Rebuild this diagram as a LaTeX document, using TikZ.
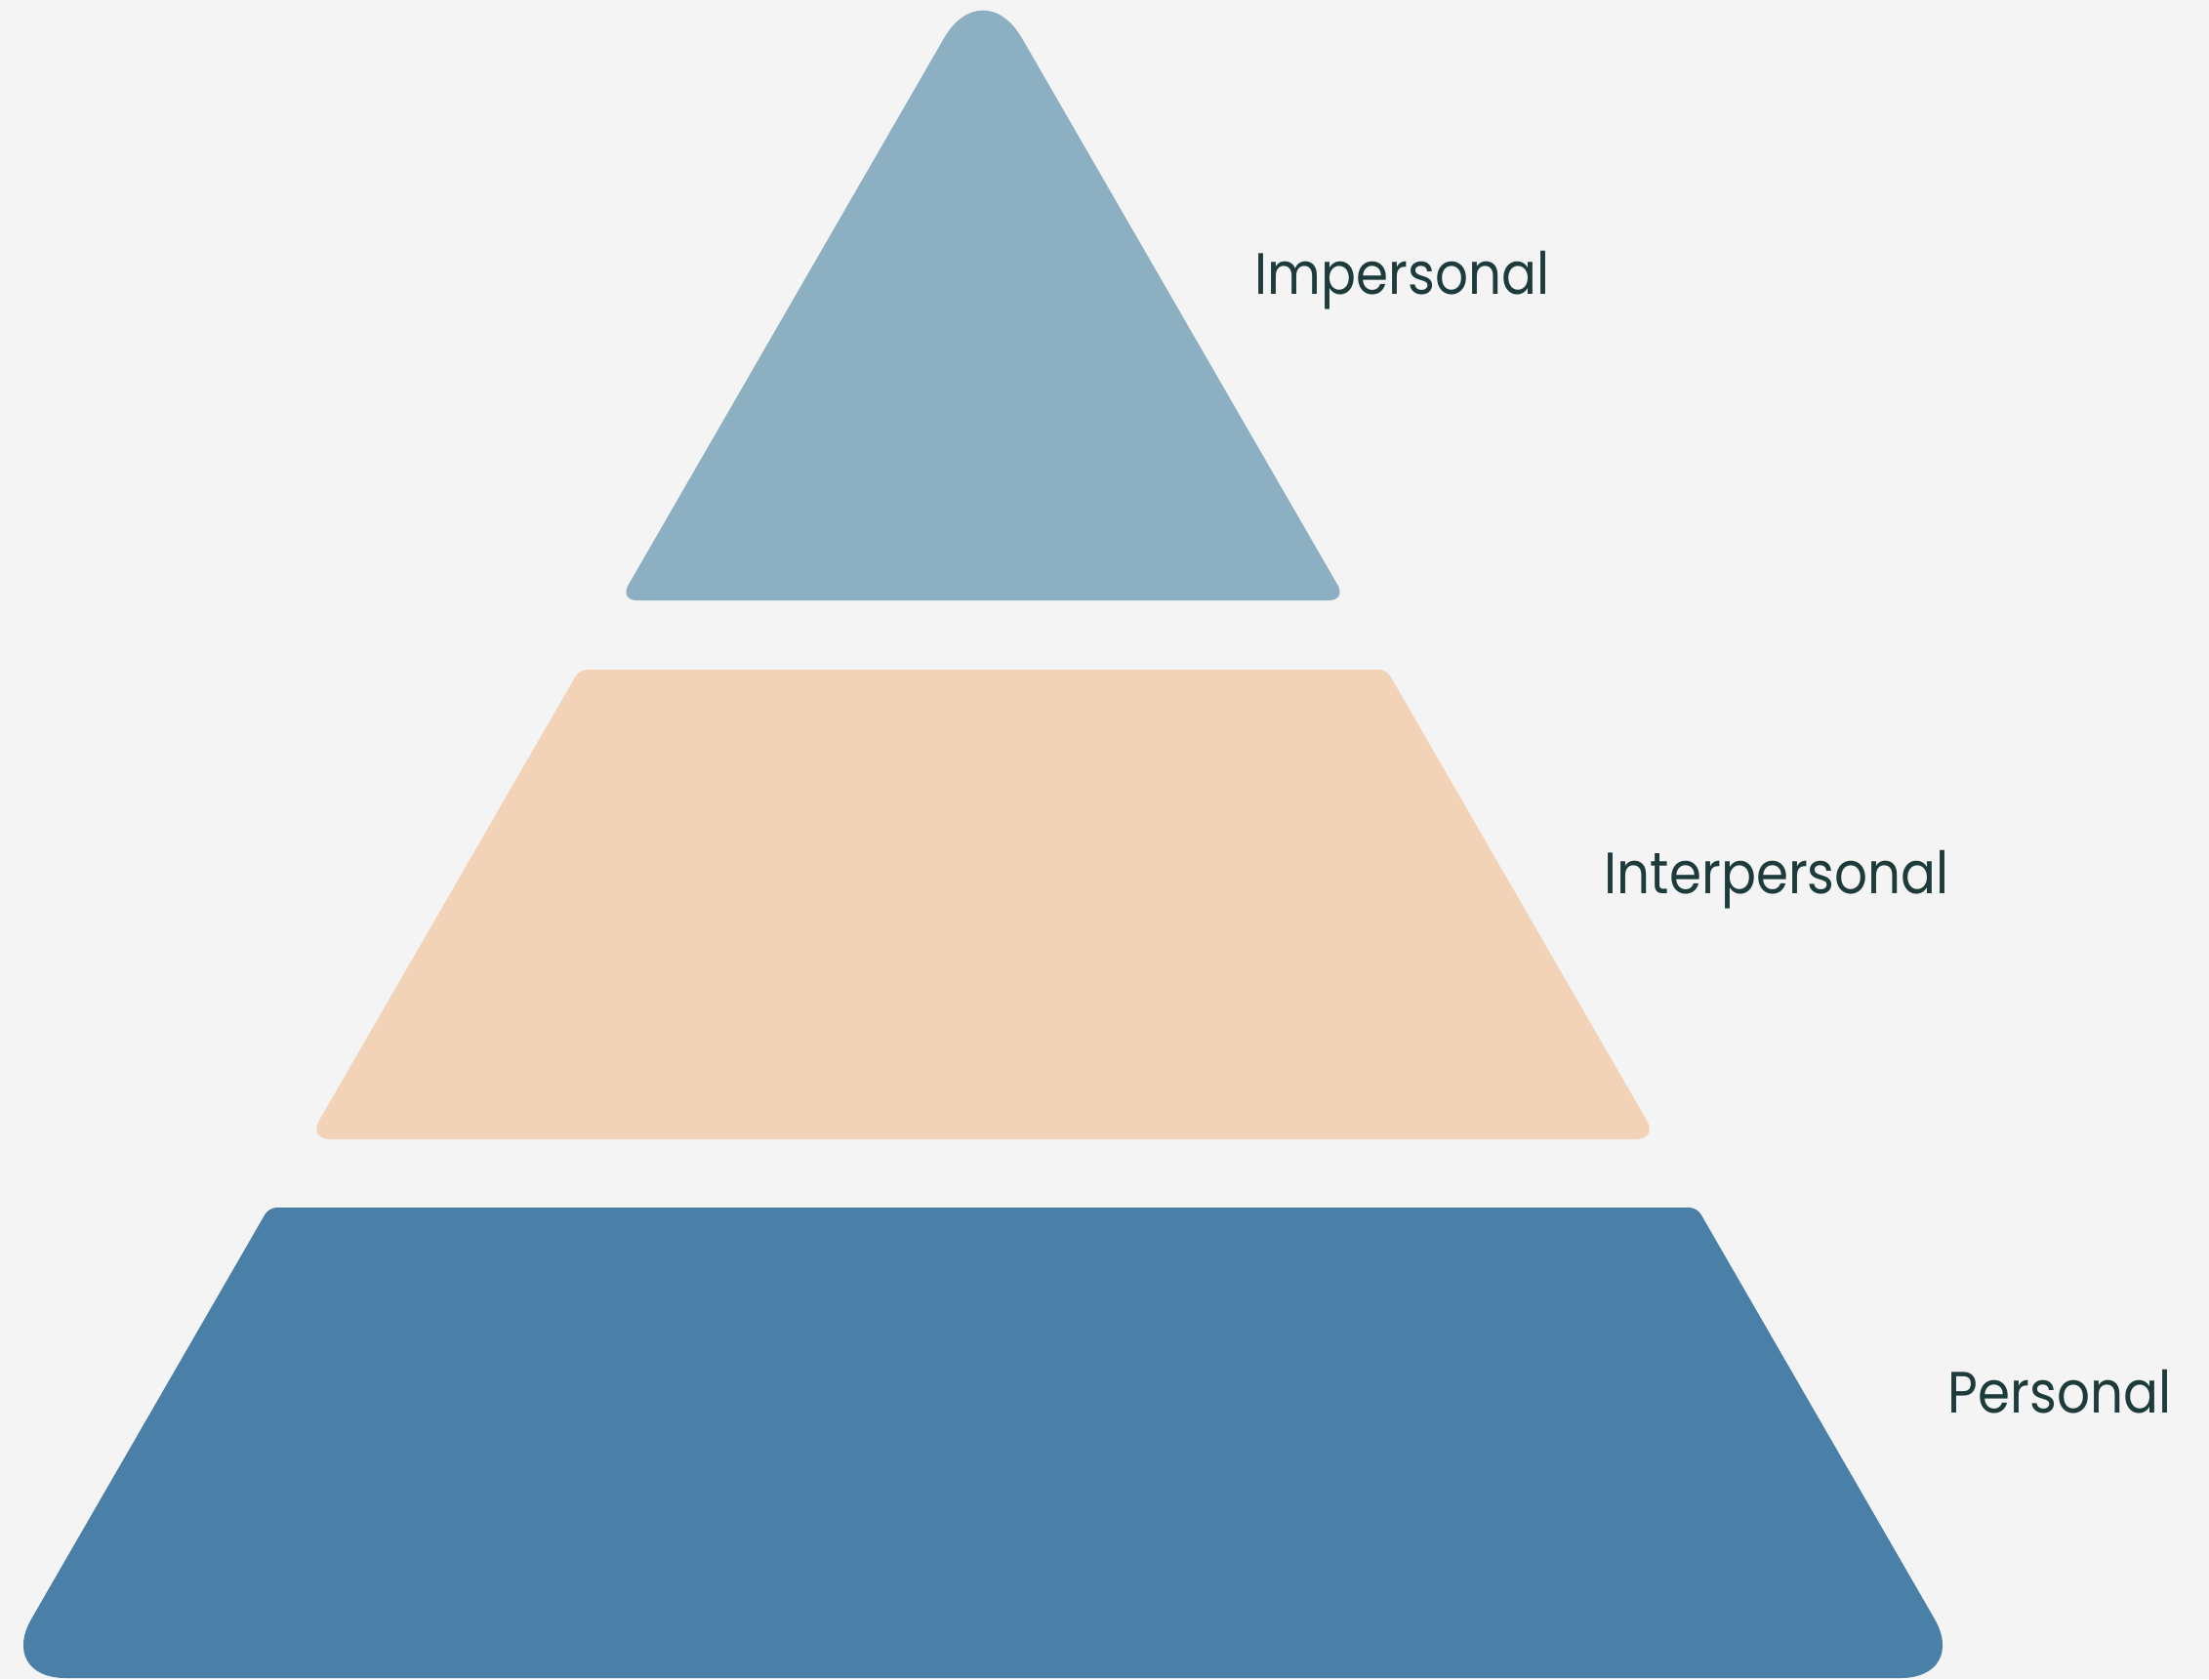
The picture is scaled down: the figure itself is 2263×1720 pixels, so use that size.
\documentclass[tikz,border=0pt]{standalone}
\usepackage{fontspec}
\setmainfont{Poppins}
\definecolor{bgc}{HTML}{F4F4F4}
\definecolor{topc}{HTML}{8CAFC2}
\definecolor{midc}{HTML}{F3D3B7}
\definecolor{botc}{HTML}{4A80A8}
\definecolor{txtc}{HTML}{1C3B3A}
\tikzset{
  lbl/.style={anchor=base west, inner sep=0pt, text=txtc, font=\fontsize{17}{20}\selectfont}
}
\newcommand{\lbltext}[1]{\scalebox{0.89}[1]{#1}}
\begin{document}
\begin{tikzpicture}[x=0.01cm,y=-0.01cm]
\fill[bgc] (0,0) rectangle (2263,1720);
\useasboundingbox (0,0) rectangle (2263,1720);
% top triangle
\fill[topc] (1007,615) [rounded corners=0.18cm] -- (634.6,615) [rounded corners=0.8cm] -- (1007,-30) [rounded corners=0.18cm] -- (1379.4,615) [sharp corners] -- cycle;
% middle trapezoid
\fill[midc] (1007,686) [rounded corners=0.08cm] -- (593.6,686) [rounded corners=0.22cm] -- (315.9,1167) -- (1698.1,1167) [rounded corners=0.08cm] -- (1420.4,686) [sharp corners] -- cycle;
% bottom trapezoid
\fill[botc] (1007,1237) [rounded corners=0.08cm] -- (275.5,1237) [rounded corners=0.7cm] -- (-2.8,1719) -- (2016.8,1719) [rounded corners=0.08cm] -- (1738.5,1237) [sharp corners] -- cycle;
% labels
\node[lbl] (imp) at (1285,301) {\lbltext{Impersonal}};
\node[lbl] (inter) at (1643,915) {\lbltext{Interpersonal}};
\node[lbl] (pers) at (1995,1447) {\lbltext{Personal}};
\end{tikzpicture}
\end{document}
